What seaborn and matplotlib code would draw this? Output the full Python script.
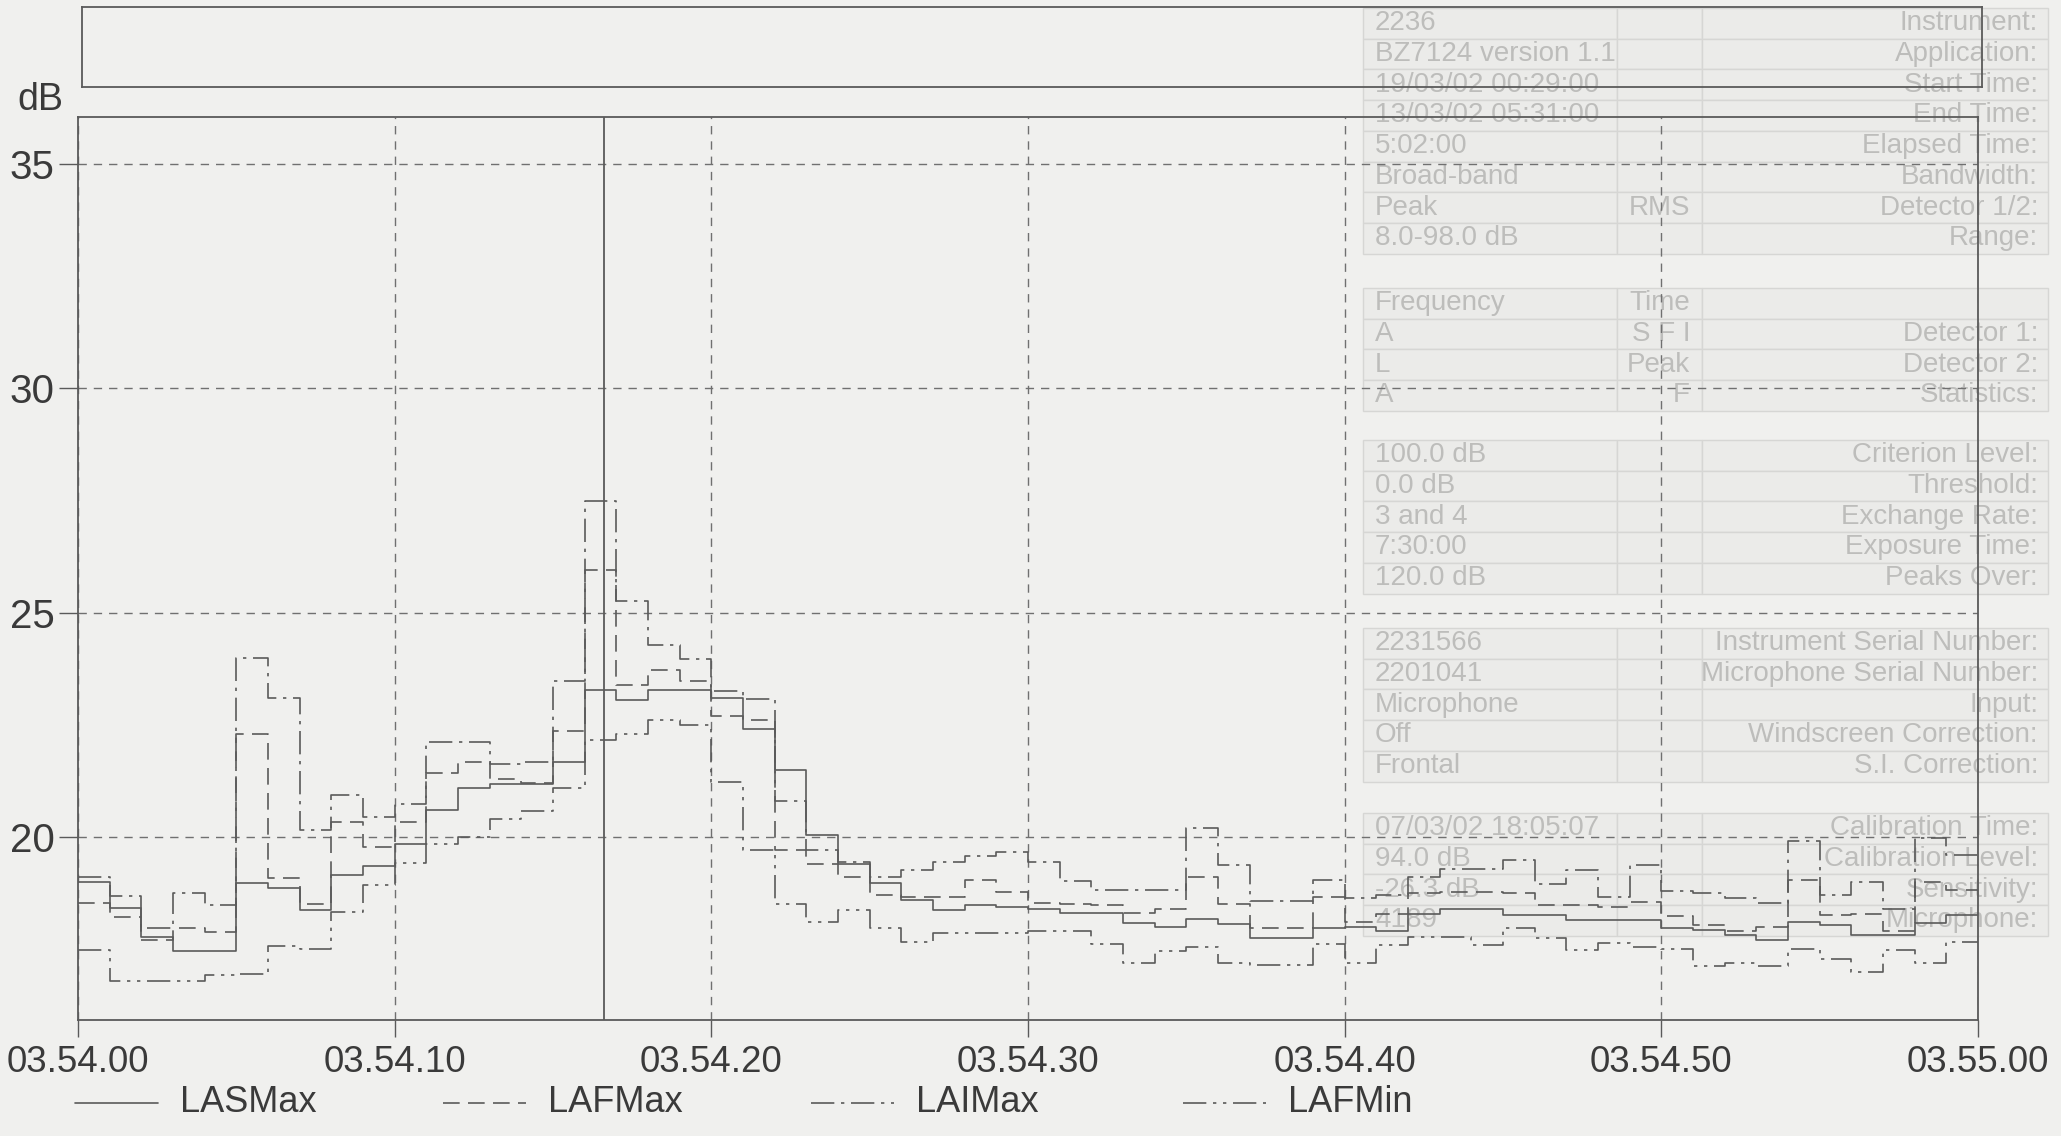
import matplotlib
matplotlib.use("Agg")
import matplotlib.pyplot as plt
from matplotlib.lines import Line2D
from matplotlib.patches import Rectangle
import pandas as pd
import seaborn as sns

# ---- one-second level samples, 03.54.00 .. 03.54.59 (dB) ----
seconds = list(range(60))

las_max = [19.00, 18.42, 17.78, 17.45, 17.45, 18.97, 18.86, 18.37, 19.15, 19.35,
           19.84, 20.61, 21.10, 21.18, 21.18, 21.67, 23.27, 23.06, 23.27, 23.27,
           23.10, 22.40, 21.50, 20.05, 19.39, 18.98, 18.59, 18.37, 18.48, 18.44,
           18.40, 18.31, 18.31, 18.09, 18.00, 18.17, 18.07, 17.75, 17.75, 17.96,
           18.00, 17.91, 18.29, 18.39, 18.39, 18.26, 18.26, 18.14, 18.14, 18.14,
           17.98, 17.92, 17.81, 17.70, 18.11, 18.03, 17.81, 17.81, 18.09, 18.27]

laf_max = [18.52, 18.22, 17.70, 17.97, 17.88, 22.29, 19.08, 18.50, 20.34, 19.78,
           20.33, 21.43, 21.67, 21.30, 21.20, 22.37, 25.96, 23.39, 23.72, 23.47,
           22.70, 22.60, 19.70, 19.40, 19.10, 18.70, 18.66, 18.66, 19.03, 18.77,
           18.52, 18.50, 18.49, 18.30, 18.39, 19.11, 18.51, 17.96, 17.96, 18.66,
           18.10, 18.29, 18.74, 18.78, 18.78, 18.76, 18.48, 18.48, 18.44, 18.55,
           18.24, 18.03, 17.90, 17.99, 19.03, 18.25, 18.29, 17.90, 19.00, 18.81]

lai_max = [19.10, 18.69, 17.97, 18.76, 18.49, 24.00, 23.09, 20.16, 20.94, 20.44,
           20.74, 22.12, 22.12, 21.63, 21.67, 23.47, 27.48, 25.27, 24.29, 23.96,
           23.25, 23.08, 20.80, 19.70, 19.45, 19.10, 19.26, 19.45, 19.58, 19.67,
           19.44, 19.01, 18.81, 18.81, 18.81, 20.19, 19.37, 18.57, 18.57, 19.03,
           18.63, 18.70, 19.10, 19.29, 19.29, 19.48, 18.96, 19.26, 18.66, 19.37,
           18.80, 18.74, 18.63, 18.52, 19.91, 18.70, 19.00, 18.40, 19.98, 19.59]

laf_min = [17.48, 16.78, 16.78, 16.78, 16.93, 16.95, 17.56, 17.50, 18.33, 18.93,
           19.43, 19.84, 20.00, 20.41, 20.59, 21.10, 22.17, 22.30, 22.60, 22.50,
           21.22, 19.70, 18.50, 18.10, 18.37, 17.96, 17.66, 17.86, 17.86, 17.86,
           17.90, 17.90, 17.62, 17.19, 17.45, 17.55, 17.18, 17.14, 17.14, 17.62,
           17.20, 17.59, 17.77, 17.77, 17.59, 17.97, 17.75, 17.48, 17.64, 17.55,
           17.50, 17.13, 17.20, 17.13, 17.51, 17.29, 16.99, 17.48, 17.18, 17.66]

series_names = ["LASMax", "LAFMax", "LAIMax", "LAFMin"]
x_tick_seconds = [0, 10, 20, 30, 40, 50, 60]
x_tick_labels = ["03.54.00", "03.54.10", "03.54.20", "03.54.30",
                 "03.54.40", "03.54.50", "03.55.00"]
y_ticks = [20, 25, 30, 35]
y_unit = "dB"
cursor_second = 16.6

# ---- instrument settings sheet printed behind the plot ----
settings_groups = [
    [("Instrument:", "2236", ""),
     ("Application:", "BZ7124 version 1.1", ""),
     ("Start Time:", "19/03/02 00:29:00", ""),
     ("End Time:", "13/03/02 05:31:00", ""),
     ("Elapsed Time:", "5:02:00", ""),
     ("Bandwidth:", "Broad-band", ""),
     ("Detector 1/2:", "Peak", "RMS"),
     ("Range:", "8.0-98.0 dB", "")],
    [("", "Frequency", "Time"),
     ("Detector 1:", "A", "S F I"),
     ("Detector 2:", "L", "Peak"),
     ("Statistics:", "A", "F")],
    [("Criterion Level:", "100.0 dB", ""),
     ("Threshold:", "0.0 dB", ""),
     ("Exchange Rate:", "3 and 4", ""),
     ("Exposure Time:", "7:30:00", ""),
     ("Peaks Over:", "120.0 dB", "")],
    [("Instrument Serial Number:", "2231566", ""),
     ("Microphone Serial Number:", "2201041", ""),
     ("Input:", "Microphone", ""),
     ("Windscreen Correction:", "Off", ""),
     ("S.I. Correction:", "Frontal", "")],
    [("Calibration Time:", "07/03/02 18:05:07", ""),
     ("Calibration Level:", "94.0 dB", ""),
     ("Sensitivity:", "-26.3 dB", ""),
     ("Microphone:", "4189", "")],
]

# ---- styling ----
PAPER = "#f0f0ee"
INK = "#3a3a3a"
LINE = "#5a5a5a"
GRID = "#707070"
SHEET_TEXT = "#bdbdbb"
SHEET_EDGE = "#d6d6d4"
SHEET_FILL = "#ebebe9"

dash_map = {
    "LASMax": "",
    "LAFMax": (10, 5),
    "LAIMax": (14, 4, 2, 4),
    "LAFMin": (14, 4, 2, 4, 2, 4),
}

sns.set_theme(style="white")
plt.rcParams["font.family"] = ["Liberation Sans Narrow", "Liberation Sans", "DejaVu Sans"]

W, H = 2061, 1136
fig = plt.figure(figsize=(W / 100, H / 100), dpi=100, facecolor=PAPER)


def fx(px):
    return px / W


def fy(py):
    return 1 - py / H


# settings sheet (drawn first, underneath everything)
row_pitch = 30.7
group_tops = [8, 288, 440, 628, 813]
col_edges = [1363, 1617, 1702, 2048]
for top, rows in zip(group_tops, settings_groups):
    for i, (label, val1, val2) in enumerate(rows):
        y0 = top + i * row_pitch
        for c0, c1 in zip(col_edges[:-1], col_edges[1:]):
            fig.add_artist(Rectangle((fx(c0), fy(y0 + row_pitch)), fx(c1 - c0), row_pitch / H,
                                     transform=fig.transFigure, facecolor=SHEET_FILL,
                                     edgecolor=SHEET_EDGE, lw=1.0, zorder=-5))
        yc = fy(y0 + row_pitch / 2)
        kw = dict(color=SHEET_TEXT, fontsize=20, va="center", zorder=-4,
                  family=["Liberation Sans", "DejaVu Sans"])
        if label:
            fig.text(fx(col_edges[3] - 10), yc, label, ha="right", **kw)
        if val1:
            fig.text(fx(col_edges[0] + 12), yc, val1, ha="left", **kw)
        if val2:
            fig.text(fx(col_edges[2] - 12), yc, val2, ha="right", **kw)

# empty header strip above the plot
top_box = fig.add_axes([fx(82), fy(87), fx(1900), 80 / H])
top_box.set_facecolor("none")
top_box.set_xticks([])
top_box.set_yticks([])
for sp in top_box.spines.values():
    sp.set_color(LINE)
    sp.set_linewidth(1.3)

# main plot
ax = fig.add_axes([fx(78), fy(1020), fx(1978 - 78), (1020 - 117) / H])
ax.set_facecolor("none")

frames = []
for name, vals in zip(series_names, [las_max, laf_max, lai_max, laf_min]):
    frames.append(pd.DataFrame({
        "t": seconds + [seconds[-1] + 1],
        "level": vals + [vals[-1]],
        "series": name,
    }))
df = pd.concat(frames, ignore_index=True)

sns.lineplot(data=df, x="t", y="level", style="series", style_order=series_names,
             dashes=dash_map, color=LINE, linewidth=1.2, drawstyle="steps-post",
             estimator=None, sort=True, legend=False, ax=ax)

ax.axvline(cursor_second, color=LINE, lw=1.3)

ax.set_xlim(0, 60)
ax.set_ylim(15.92, 36.05)
ax.set_xticks(x_tick_seconds)
ax.set_xticklabels(x_tick_labels)
ax.set_yticks(y_ticks)
ax.set_xlabel("")
ax.set_ylabel("")
ax.grid(True, linestyle=(0, (6, 5)), color=GRID, linewidth=1.0)
ax.tick_params(axis="x", direction="out", length=12, width=1.0, color=LINE,
               pad=6, labelsize=26.5, labelcolor=INK, bottom=True)
ax.tick_params(axis="y", direction="out", length=14, width=1.0, color=LINE,
               pad=3, labelsize=29, labelcolor=INK, left=True)
for sp in ax.spines.values():
    sp.set_color(LINE)
    sp.set_linewidth(1.3)

fig.text(fx(17), fy(100), y_unit, fontsize=27, color=INK, ha="left", va="center")

# legend row
legend_x = [75, 443, 811, 1183]
legend_y = fy(1103)
for name, x0 in zip(series_names, legend_x):
    ln = Line2D([fx(x0), fx(x0 + 83)], [legend_y, legend_y], transform=fig.transFigure,
                color=LINE, lw=1.2)
    if dash_map[name]:
        ln.set_dashes(dash_map[name])
    fig.add_artist(ln)
    fig.text(fx(x0 + 105), legend_y, name, fontsize=26, color=INK, ha="left", va="center")

fig.savefig("out.png", dpi=100, facecolor=PAPER)
